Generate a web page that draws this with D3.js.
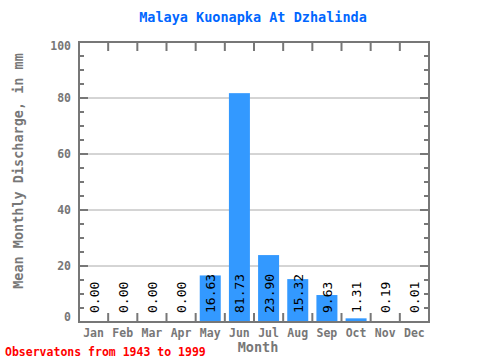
<!DOCTYPE html>
<html><head><meta charset="utf-8">
<script src="https://cdn.jsdelivr.net/npm/d3@7"></script>
<style>body{margin:0;background:#fff}svg{display:block}</style>
</head><body>
<script>
const months = ["Jan","Feb","Mar","Apr","May","Jun","Jul","Aug","Sep","Oct","Nov","Dec"];
const values = [0.00,0.00,0.00,0.00,16.63,81.73,23.90,15.32,9.63,1.31,0.19,0.01];
const yTicks = [0,20,40,60,80,100];
const title = "Malaya Kuonapka At Dzhalinda";
const yTitle = "Mean Monthly Discharge, in mm";
const xTitle = "Month";
const footer = "Observatons from 1943 to 1999";

const W=480,H=360, L=79,R=429,T=42,B=322;
const font = "'DejaVu Sans Mono', monospace";
const axisCol = "#777";
const svg = d3.select("body").append("svg").attr("width",W).attr("height",H);

const x = d3.scaleBand().domain(months).range([L,R]).paddingInner(0.28).paddingOuter(0.14);
const xb = d3.scaleLinear().domain([0,12]).range([L,R]);
const y = d3.scaleLinear().domain([0,100]).range([B,T]);

// gridlines
svg.append("g").selectAll("line").data(yTicks.filter(d=>d>0&&d<100)).join("line")
  .attr("x1",L).attr("x2",R).attr("y1",d=>y(d)).attr("y2",d=>y(d))
  .attr("stroke","#aaa").attr("stroke-width",1);

// bars
svg.append("g").selectAll("rect").data(values).join("rect")
  .attr("x",(d,i)=>x(months[i])).attr("width",x.bandwidth())
  .attr("y",d=>y(d)).attr("height",d=>B-y(d)).attr("fill","#3399ff");

// value labels
svg.append("g").selectAll("text").data(values).join("text")
  .attr("transform",(d,i)=>`translate(${x(months[i])+x.bandwidth()/2+5},${B-9}) rotate(-90)`)
  .attr("font-family",font).attr("font-size",13).attr("fill","#000")
  .text(d=>d.toFixed(2));

// axes frame
const g = svg.append("g").attr("stroke",axisCol).attr("fill","none");
g.append("rect").attr("x",L).attr("y",T).attr("width",R-L).attr("height",B-T).attr("stroke-width",2);
const minor = d3.range(0,101,5);
minor.forEach(v=>{
  const len = v%20===0?9:5;
  g.append("line").attr("x1",L).attr("x2",L+len).attr("y1",y(v)).attr("y2",y(v)).attr("stroke-width",2);
  g.append("line").attr("x1",R).attr("x2",R-len).attr("y1",y(v)).attr("y2",y(v)).attr("stroke-width",2);
});
d3.range(1,12).forEach(i=>{
  g.append("line").attr("x1",xb(i)).attr("x2",xb(i)).attr("y1",T).attr("y2",T+9).attr("stroke-width",2);
  g.append("line").attr("x1",xb(i)).attr("x2",xb(i)).attr("y1",B).attr("y2",B-9).attr("stroke-width",2);
});

// y tick labels (end labels nudged inside, as in the reference)
svg.append("g").selectAll("text").data(yTicks).join("text")
  .attr("x",71).attr("y",d=>y(d)+4+(d===0?-5:d===100?4:0)).attr("text-anchor","end")
  .attr("font-family",font).attr("font-size",11.5).attr("font-weight","bold").attr("fill",axisCol)
  .text(d=>d);

// month labels
svg.append("g").selectAll("text").data(months).join("text")
  .attr("x",d=>x(d)+x.bandwidth()/2).attr("y",337).attr("text-anchor","middle")
  .attr("font-family",font).attr("font-size",11.5).attr("font-weight","bold").attr("fill",axisCol)
  .text(d=>d);

// titles
svg.append("text").attr("x",253).attr("y",22).attr("text-anchor","middle")
  .attr("font-family",font).attr("font-size",13.5).attr("font-weight","bold").attr("fill","#0066ff").text(title);
svg.append("text").attr("transform",`translate(23,171) rotate(-90)`).attr("text-anchor","middle")
  .attr("font-family",font).attr("font-size",13.5).attr("font-weight","bold").attr("fill",axisCol).text(yTitle);
svg.append("text").attr("x",258).attr("y",352).attr("text-anchor","middle")
  .attr("font-family",font).attr("font-size",13.5).attr("font-weight","bold").attr("fill",axisCol).text(xTitle);
svg.append("text").attr("x",5).attr("y",356)
  .attr("font-family",font).attr("font-size",11.5).attr("font-weight","bold").attr("fill","#ff0000").text(footer);
</script>
</body></html>
